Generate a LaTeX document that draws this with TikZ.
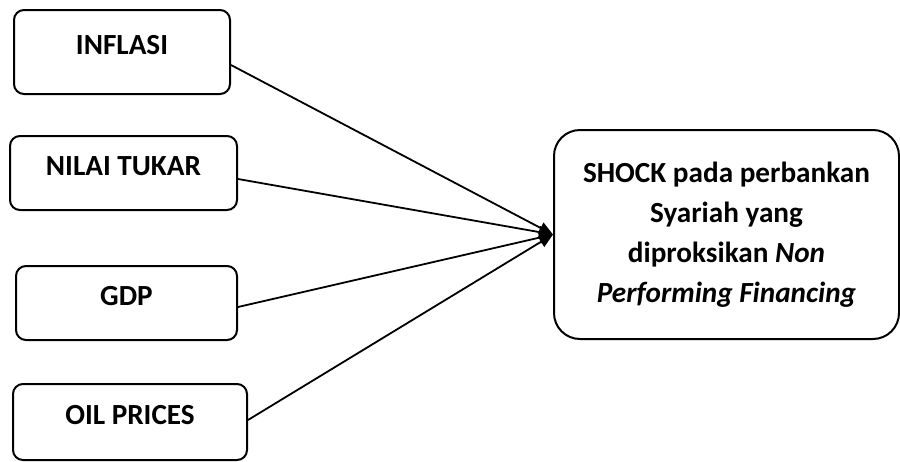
\documentclass[tikz,border=0pt]{standalone}
\usepackage{fontspec}
\setmainfont{Carlito}
\usetikzlibrary{arrows.meta,calc}
\tikzset{
  varbox/.style={rounded corners=5pt, draw=black, line width=1pt,
                 font=\fontsize{14.6}{20}\selectfont\bfseries, align=center,
                 inner sep=0pt, text height=9.5pt, text depth=7pt},
  npfbox/.style={varbox, rounded corners=13pt, text height=, text depth=},
  varrow/.style={-{Triangle[length=7pt,width=6pt]}, draw=black, line width=0.9pt},
}
\begin{document}
\begin{tikzpicture}[x=0.5pt, y=-0.5pt]
  \useasboundingbox (0,0) rectangle (900,461);
  % --- macro variables ---
  \node[varbox, minimum width=108pt, minimum height=42pt] (inflasi) at (122,52) {INFLASI};
  \node[varbox, minimum width=113.5pt, minimum height=37pt] (kurs) at (123.5,173) {NILAI TUKAR};
  \node[varbox, minimum width=110.5pt, minimum height=37pt] (gdp) at (126.5,303) {GDP};
  \node[varbox, minimum width=117pt, minimum height=38pt] (oil) at (130,422) {OIL PRICES};

  % --- shock on islamic banks ---
  \node[npfbox, minimum width=172.5pt, minimum height=104.5pt] (npf) at (726.5,234.5)
    {SHOCK pada perbankan\\Syariah yang\\diproksikan \textit{Non}\\\textit{Performing Financing}};

  \draw[varrow] ([yshift=-6.5pt]inflasi.east) -- (npf.west);
  \draw[varrow] ([yshift=-3pt]kurs.east) -- (npf.west);
  \draw[varrow] ([yshift=-2pt]gdp.east) -- (npf.west);
  \draw[varrow] ([yshift=1pt]oil.east) -- (npf.west);
\end{tikzpicture}
\end{document}
